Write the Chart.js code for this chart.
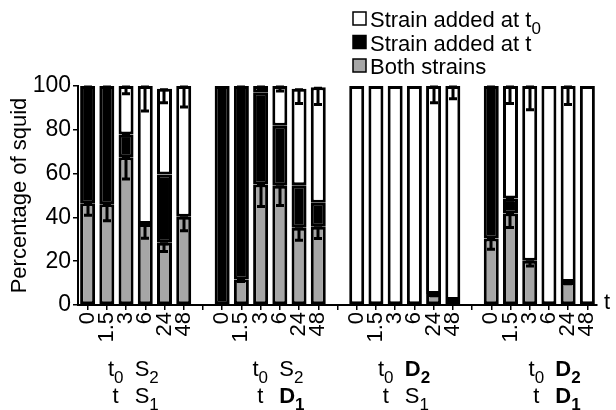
<!DOCTYPE html>
<html><head><meta charset="utf-8">
<script src="https://cdn.jsdelivr.net/npm/chart.js@4/dist/chart.umd.min.js"></script>
<style>html,body{margin:0;padding:0;background:#fff}#wrap{width:616px;height:410px;position:relative}</style>
</head><body><div id="wrap"><canvas id="c" width="616" height="410"></canvas></div>
<script>
// ---- data ----
const times = ['0','1.5','3','6','24','48'];
const categories = [...times, '', ...times, '', ...times, '', ...times];
const seriesNames = ['Both strains', 'Strain added at t', 'Strain added at t0'];
const bothStrains = [46.5,46,67.5,37,28.4,40.3,null, null,11.7,55,54.4,35.3,35.7,null, null,null,null,null,5,2.3,null, 30.4,41.8,20.2,null,10.5,null];
const addedAtT    = [53.5,54,10.3,null,31.2,null,null, 100,88.3,42.1,27.5,19.4,11,null, null,null,null,null,null,null,null, 69.6,6.8,null,null,null,null];
const addedAtT0   = [null,null,22.2,63,39.2,59.7,null, null,null,2.9,18.1,44.1,52.7,null, 100,100,100,100,95,97.7,null, null,51.4,79.8,100,89.5,100];
const errBoth = [5.5,7.5,10,6.5,4,6.4,0, 0,1,10,9,5.7,5.3,0, 0,0,0,0,0.8,0.5,0, 5,6.4,2.4,0,0.8,0];
const errT    = [0.8,0.8,0.8,0,0,0,0, 0,0.8,0,0,0,0,0, 0,0,0,0,0,0,0, 0.8,0.8,0,0,0,0];
const errT0   = [0,0,3.5,11.4,6.4,9.6,0, 0,0,1.5,2.3,6.8,7.8,0, 0,0,0,0,7.6,5.8,0, 0,8,10.8,0,8.4,0];
const groupT0 = ['S', 'S', 'D', 'D'];
const groupT  = ['S', 'D', 'S', 'D'];
const yTicks = [0,20,40,60,80,100];

// ---- style ----
const FONT = '"Liberation Sans", Arial, Helvetica, sans-serif';
const GRAY = '#a6a6a6';
const groupLabelOffset = [-1, 9, 0, 16];

function drawRich(ctx, x, y, parts, size) {
  let cx = x;
  parts.forEach(p => {
    const sz = p.sub ? Math.round(size * 0.75) : size;
    ctx.font = (p.bold ? 'bold ' : '') + sz + 'px ' + FONT;
    ctx.fillText(p.t, cx, y + (p.sub ? Math.round(size * 0.3) : 0));
    cx += ctx.measureText(p.t).width;
  });
  return cx;
}
function richWidth(ctx, parts, size) {
  let w = 0;
  parts.forEach(p => {
    const sz = p.sub ? Math.round(size * 0.75) : size;
    ctx.font = (p.bold ? 'bold ' : '') + sz + 'px ' + FONT;
    w += ctx.measureText(p.t).width;
  });
  return w;
}

const errPlugin = {
  id: 'errbars',
  afterDatasetsDraw(chart) {
    const ctx = chart.ctx, xs = chart.scales.x, ys = chart.scales.y;
    const series = [bothStrains, addedAtT, addedAtT0], errs = [errBoth, errT, errT0];
    ctx.save();
    ctx.strokeStyle = '#000'; ctx.lineWidth = 3; ctx.lineCap = 'butt';
    categories.forEach((c, i) => {
      let cum = 0;
      series.forEach((s, k) => {
        const v = s[i]; if (v == null) return;
        cum += v;
        const e = errs[k][i]; if (!e) return;
        const px = Math.round(xs.getPixelForValue(i));
        const y1 = ys.getPixelForValue(cum), y2 = ys.getPixelForValue(cum - e);
        ctx.beginPath();
        ctx.moveTo(px, y1); ctx.lineTo(px, y2);
        ctx.moveTo(px - 4, y2); ctx.lineTo(px + 4, y2);
        ctx.moveTo(px - 4, y1 + 1); ctx.lineTo(px + 4, y1 + 1);
        ctx.stroke();
      });
    });
    ctx.restore();
  }
};

const textPlugin = {
  id: 'texts',
  afterDraw(chart) {
    const ctx = chart.ctx, xs = chart.scales.x, ys = chart.scales.y;
    ctx.save();
    ctx.fillStyle = '#000';
    ctx.textBaseline = 'alphabetic';
    ctx.textAlign = 'left';
    // legend
    const leg = [
      {fill: '#fff', parts: [{t: 'Strain added at t'}, {t: '0', sub: true}]},
      {fill: '#000', parts: [{t: 'Strain added at t'}]},
      {fill: GRAY, parts: [{t: 'Both strains'}]}
    ];
    leg.forEach((l, r) => {
      const base = 27 + r * 23.5;
      ctx.fillStyle = l.fill;
      ctx.fillRect(353, base - 15, 13, 13);
      ctx.strokeStyle = '#000'; ctx.lineWidth = 1.5;
      ctx.strokeRect(353, base - 15, 13, 13);
      ctx.fillStyle = '#000';
      drawRich(ctx, 370, base, l.parts, 22);
    });
    // x axis title
    ctx.font = '22px ' + FONT;
    ctx.fillText('t', xs.right + 7, ys.bottom + 4);
    // group labels
    for (let g = 0; g < 4; g++) {
      const s = g * 7;
      const cx = (xs.getPixelForValue(s) + xs.getPixelForValue(s + 5)) / 2 + groupLabelOffset[g];
      const r1 = [{t: 't'}, {t: '0', sub: true}];
      const r2 = [{t: 't'}];
      const w1 = richWidth(ctx, r1, 22), w2 = richWidth(ctx, r2, 22);
      const colC = cx - 19;
      drawRich(ctx, colC - w1 / 2, 376, r1, 22);
      drawRich(ctx, colC - w2 / 2, 403, r2, 22);
      const b1 = groupT0[g] === 'D', b2 = groupT[g] === 'D';
      drawRich(ctx, cx, 376, [{t: groupT0[g], bold: b1}, {t: '2', sub: true, bold: b1}], 22);
      drawRich(ctx, cx, 403, [{t: groupT[g], bold: b2}, {t: '1', sub: true, bold: b2}], 22);
    }
    ctx.restore();
  }
};

const common = {borderColor: '#000', borderWidth: 3, borderSkipped: false, barPercentage: 0.78, categoryPercentage: 1.0};
new Chart(document.getElementById('c'), {
  type: 'bar',
  data: {
    labels: categories,
    datasets: [
      {label: seriesNames[0], data: bothStrains, backgroundColor: GRAY, ...common},
      {label: seriesNames[1], data: addedAtT, backgroundColor: '#000', ...common},
      {label: seriesNames[2], data: addedAtT0, backgroundColor: '#fff', ...common}
    ]
  },
  options: {
    responsive: false, animation: false, devicePixelRatio: 1,
    layout: {padding: {top: 86, right: 12, left: 0, bottom: 0}},
    plugins: {legend: {display: false}, tooltip: {enabled: false}},
    scales: {
      x: {
        stacked: true, offset: true,
        grid: {display: true, offset: false, drawOnChartArea: false, drawTicks: true, tickLength: 5, color: '#000', lineWidth: 1.5},
        border: {display: true, color: '#000', width: 2},
        ticks: {autoSkip: false, minRotation: 90, maxRotation: 90, padding: 2, color: '#000', font: {family: FONT, size: 22}},
        afterFit(s) { s.height = 105; }
      },
      y: {
        stacked: true, min: 0, max: 100,
        afterBuildTicks(s) { s.ticks = yTicks.map(v => ({value: v})); },
        grid: {display: true, drawOnChartArea: false, drawTicks: true, tickLength: 5, color: '#000', lineWidth: 1.5},
        border: {display: true, color: '#000', width: 2},
        ticks: {padding: 2, color: '#000', font: {family: FONT, size: 23}},
        title: {display: true, text: 'Percentage of squid', color: '#000', font: {family: FONT, size: 22}, padding: {top: 7, bottom: 0}},
        afterFit(s) { s.width = 78; }
      }
    }
  },
  plugins: [errPlugin, textPlugin]
});
</script></body></html>
